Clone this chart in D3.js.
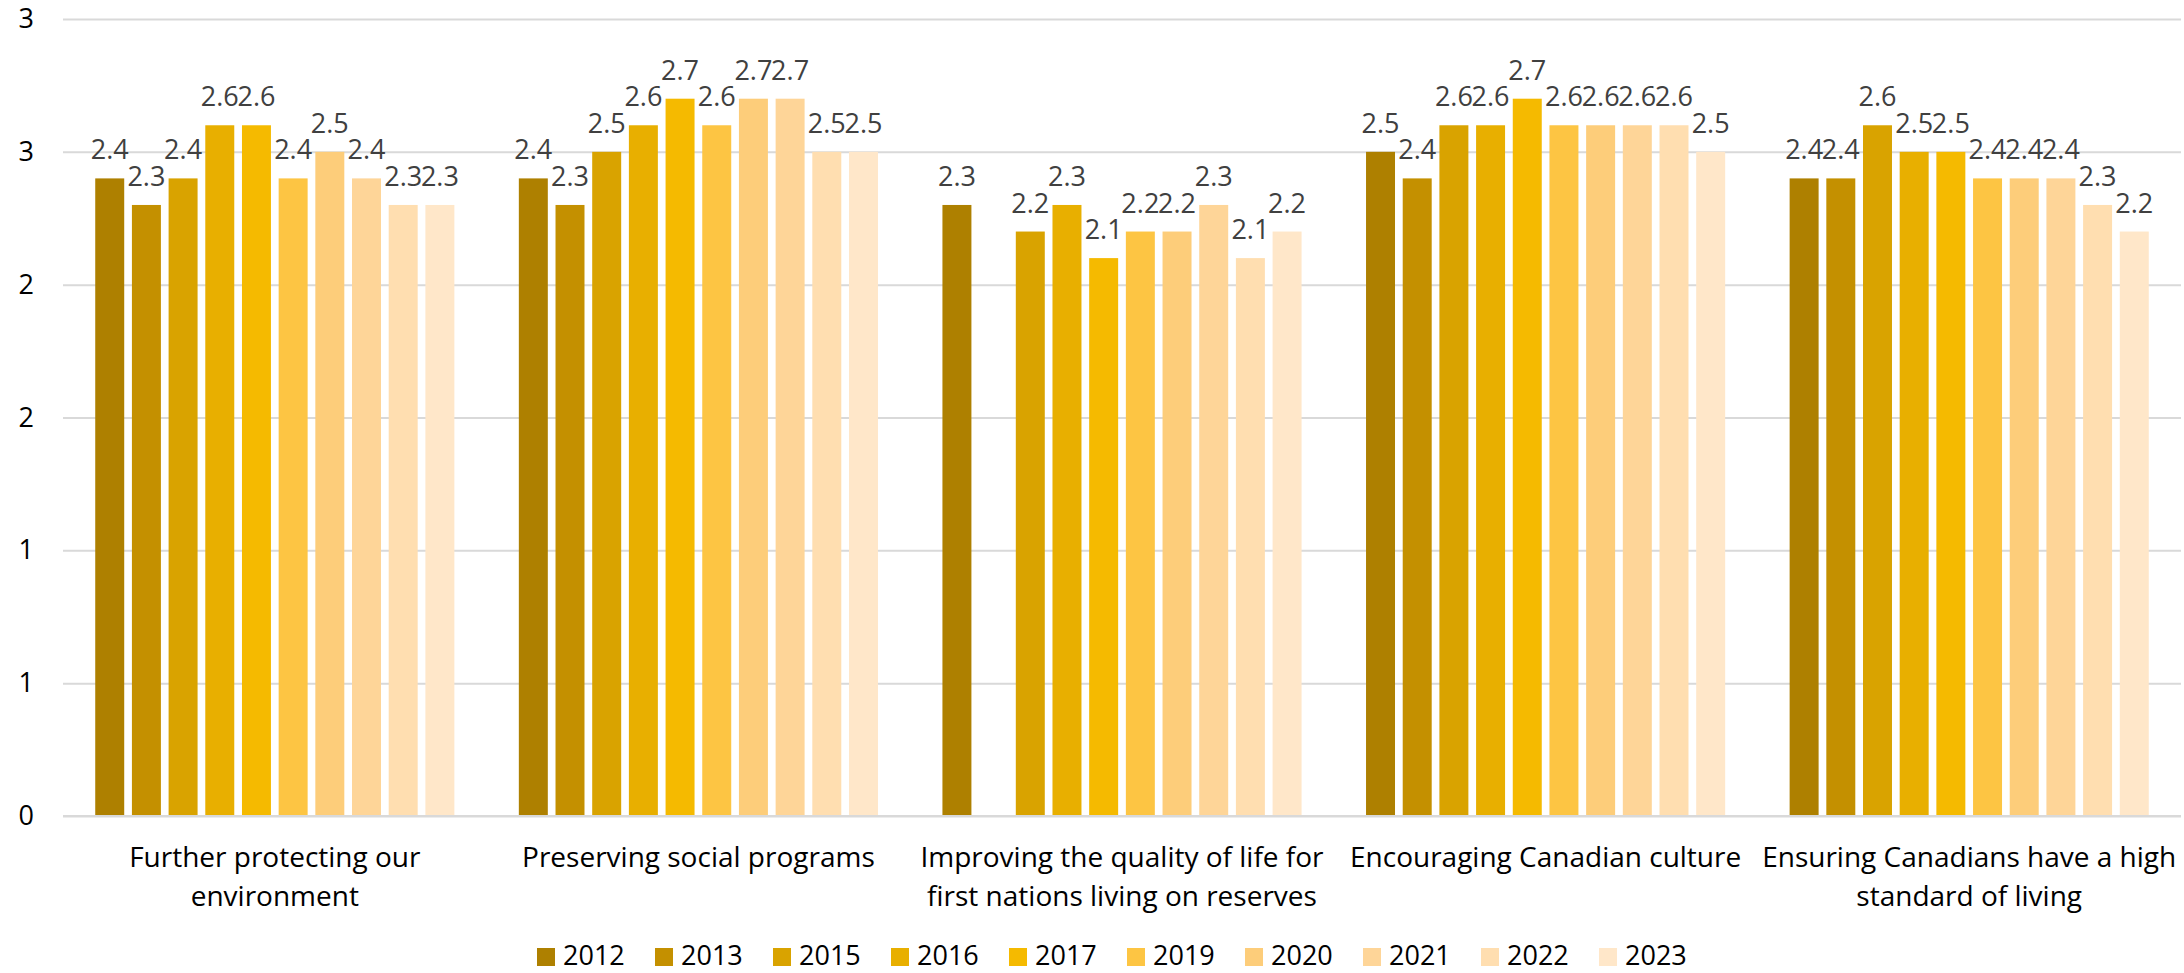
<!DOCTYPE html>
<html>
<head>
<meta charset="utf-8">
<script src="https://cdn.jsdelivr.net/npm/d3@7"></script>
<style>
  html, body { margin: 0; padding: 0; background: #fff; }
  svg { display: block; font-family: "Open Sans", sans-serif; }
</style>
</head>
<body>
<svg id="chart" width="2184" height="973"></svg>
<script>
// ---- data ----
const categories = [
  "Further protecting our\nenvironment",
  "Preserving social programs",
  "Improving the quality of life for\nfirst nations living on reserves",
  "Encouraging Canadian culture",
  "Ensuring Canadians have a high\nstandard of living"
];
const years = ["2012", "2013", "2015", "2016", "2017", "2019", "2020", "2021", "2022", "2023"];
const colors = ["#AE8000", "#C49000", "#D9A300", "#E8AF00", "#F5BA00", "#FDC543", "#FDCD7A", "#FED598", "#FFDEB0", "#FFE7C9"];
const values2012 = [2.4, 2.4, 2.3, 2.5, 2.4];
const values2013 = [2.3, 2.3, null, 2.4, 2.4];
const values2015 = [2.4, 2.5, 2.2, 2.6, 2.6];
const values2016 = [2.6, 2.6, 2.3, 2.6, 2.5];
const values2017 = [2.6, 2.7, 2.1, 2.7, 2.5];
const values2019 = [2.4, 2.6, 2.2, 2.6, 2.4];
const values2020 = [2.5, 2.7, 2.2, 2.6, 2.4];
const values2021 = [2.4, 2.7, 2.3, 2.6, 2.4];
const values2022 = [2.3, 2.5, 2.1, 2.6, 2.3];
const values2023 = [2.3, 2.5, 2.2, 2.5, 2.2];
const tickValues = [0, 0.5, 1, 1.5, 2, 2.5, 3];
const tickLabels = ["0", "1", "1", "2", "2", "3", "3"];

const seriesValues = [values2012, values2013, values2015, values2016, values2017,
                      values2019, values2020, values2021, values2022, values2023];

// ---- layout ----
const svg = d3.select("#chart");
const margin = { left: 63, right: 3, top: 19, bottom: 157 };
const W = 2184, H = 973;
const x0 = d3.scaleBand().domain(d3.range(categories.length))
  .range([margin.left, W - margin.right]).paddingInner(0.134).paddingOuter(0.067);
const x1 = d3.scaleBand().domain(years).range([0, x0.bandwidth()])
  .paddingInner(0.21).paddingOuter(0.105);
const y = d3.scaleLinear().domain([0, 3]).range([H - margin.bottom, margin.top]);
const color = d3.scaleOrdinal().domain(years).range(colors);

// gridlines
const grid = svg.append("g")
  .attr("transform", `translate(${margin.left},0)`)
  .call(d3.axisLeft(y).tickValues(tickValues).tickSize(-(W - margin.right - margin.left)).tickFormat(""));
grid.select(".domain").remove();
grid.selectAll(".tick line").attr("stroke", "#d9d9d9").attr("stroke-width", 2);

// y labels
const yAxis = svg.append("g")
  .attr("transform", `translate(34,0)`)
  .call(d3.axisLeft(y).tickValues(tickValues).tickSize(0).tickPadding(0)
    .tickFormat((d, i) => tickLabels[i]));
yAxis.select(".domain").remove();
yAxis.selectAll("text").attr("font-size", 27).attr("fill", "#000")
  .attr("font-family", "Open Sans, sans-serif");

// bars
const groups = svg.append("g").selectAll("g")
  .data(categories.map((c, ci) => ({ ci, vals: years.map((yr, si) => ({ yr, v: seriesValues[si][ci] })) })))
  .join("g")
  .attr("transform", d => `translate(${x0(d.ci)},0)`);

groups.selectAll("rect")
  .data(d => d.vals.filter(e => e.v != null))
  .join("rect")
  .attr("x", e => x1(e.yr))
  .attr("width", x1.bandwidth())
  .attr("y", e => y(e.v))
  .attr("height", e => y(0) - y(e.v))
  .attr("fill", e => color(e.yr));

groups.selectAll("text.lbl")
  .data(d => d.vals.filter(e => e.v != null))
  .join("text")
  .attr("class", "lbl")
  .attr("x", e => x1(e.yr) + x1.bandwidth() / 2)
  .attr("y", e => y(e.v) - 19)
  .attr("text-anchor", "middle")
  .attr("font-size", 27)
  .attr("fill", "#404040")
  .text(e => e.v.toFixed(1));

// x axis line
const xAxis = svg.append("g")
  .attr("transform", `translate(0,${y(0)})`)
  .call(d3.axisBottom(x0).tickSize(0).tickFormat(""));
xAxis.select(".domain").attr("stroke", "#d9d9d9").attr("stroke-width", 2)
  .attr("d", `M${margin.left},0H${W - margin.right}`);

// category labels
xAxis.selectAll(".tick").each(function (d) {
  const lines = categories[d].split("\n");
  const t = d3.select(this).append("text")
    .attr("text-anchor", "middle")
    .attr("font-size", 28)
    .attr("fill", "#000")
    .attr("font-family", "Open Sans, sans-serif");
  lines.forEach((ln, i) => {
    t.append("tspan").attr("x", 0).attr("y", 51 + i * 39).text(ln);
  });
});

// legend
const legend = svg.append("g").selectAll("g")
  .data(years)
  .join("g")
  .attr("transform", (d, i) => `translate(${537 + i * 118},948)`);
legend.append("rect").attr("width", 18).attr("height", 18).attr("fill", d => color(d));
legend.append("text").attr("x", 26).attr("y", 17).attr("font-size", 27)
  .attr("fill", "#000").text(d => d);
</script>
</body>
</html>
